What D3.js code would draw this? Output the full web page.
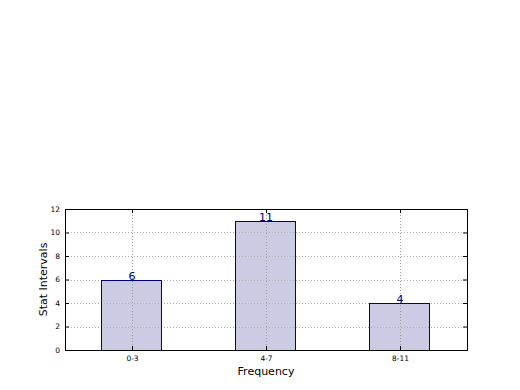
<!DOCTYPE html>
<html>
<head>
<meta charset="utf-8">
<script src="https://cdn.jsdelivr.net/npm/d3@7"></script>
<style>
  body { margin: 0; background: #fff; }
  text { font-family: "DejaVu Sans", sans-serif; }
</style>
</head>
<body>
<div id="chart"></div>
<script>
var categories = ["0-3", "4-7", "8-11"];
var counts = [6, 11, 4];
var yTicks = [0, 2, 4, 6, 8, 10, 12];

var svgWidth = 520;
var svgHeight = 390;
var margin = { top: 209, right: 53, bottom: 40, left: 65 };
var width = svgWidth - margin.left - margin.right;
var height = svgHeight - margin.top - margin.bottom;

var svg = d3.select("#chart")
            .append("svg")
            .attr("width", svgWidth)
            .attr("height", svgHeight);

var chart = svg.append("g").attr("transform", `translate(${margin.left}, ${margin.top})`);

// positions 0..n-1, xlim like matplotlib -0.5 .. n-0.5
var xScale = d3.scaleLinear().domain([-0.5, categories.length - 0.5]).range([0, width]);
var yScale = d3.scaleLinear().domain([0, 12]).range([height, 0]);
var barWidth = 0.45;
var snap = v => Math.round(v) + 0.5;

function drawBars(cls, fill, stroke) {
    chart.selectAll("." + cls)
         .data(counts)
         .enter()
         .append("rect")
         .attr("class", cls)
         .attr("x", (d, i) => snap(xScale(i - barWidth / 2)) - 1)
         .attr("width", (d, i) => snap(xScale(i + barWidth / 2)) - snap(xScale(i - barWidth / 2)))
         .attr("y", d => snap(yScale(d)))
         .attr("height", d => snap(yScale(0)) - snap(yScale(d)))
         .attr("fill", fill)
         .attr("stroke", stroke)
         .attr("stroke-width", 1);
}

// bar fills
drawBars("bar", "#cbcbe3", "none");

// grid
chart.selectAll(".hgrid")
     .data(yTicks)
     .enter()
     .append("line")
     .attr("x1", 0).attr("x2", width)
     .attr("y1", d => snap(yScale(d)))
     .attr("y2", d => snap(yScale(d)))
     .attr("stroke", "#b0b0b0")
     .attr("stroke-dasharray", "1,2");

chart.selectAll(".vgrid")
     .data(categories)
     .enter()
     .append("line")
     .attr("x1", (d, i) => snap(xScale(i)))
     .attr("x2", (d, i) => snap(xScale(i)))
     .attr("y1", 0).attr("y2", height)
     .attr("stroke", "#a0a0a0")
     .attr("stroke-dasharray", "1,2");

// bar outlines on top so the edges stay solid
drawBars("baredge", "none", "#000080");

// value labels
chart.selectAll(".val")
     .data(counts)
     .enter()
     .append("text")
     .attr("x", (d, i) => xScale(i))
     .attr("y", d => yScale(d))
     .attr("text-anchor", "middle")
     .attr("font-size", "11px")
     .attr("fill", "#000080")
     .text(d => d);

// axes (ticks inside, like matplotlib classic)
var yAxis = d3.axisLeft(yScale).tickValues(yTicks).tickSizeInner(-4).tickSizeOuter(0).tickPadding(5);
var yAxisR = d3.axisRight(yScale).tickValues(yTicks).tickSizeInner(-4).tickSizeOuter(0).tickFormat("");
var xAxis = d3.axisBottom(xScale).tickValues(d3.range(categories.length))
              .tickFormat(i => categories[i]).tickSizeInner(-4).tickSizeOuter(0).tickPadding(6);
var xAxisT = d3.axisTop(xScale).tickValues(d3.range(categories.length)).tickSizeInner(-4).tickSizeOuter(0).tickFormat("");

var gy = chart.append("g").call(yAxis);
var gyr = chart.append("g").attr("transform", `translate(${width},0)`).call(yAxisR);
var gx = chart.append("g").attr("transform", `translate(0,${height})`).call(xAxis);
var gxt = chart.append("g").call(xAxisT);

[gy, gyr, gx, gxt].forEach(function(g) {
    g.select(".domain").remove();
    g.selectAll("text").attr("font-size", "7.5px").attr("fill", "#000").attr("font-family", "DejaVu Sans, sans-serif");
});

// frame
chart.append("rect")
     .attr("x", 0.5).attr("y", 0.5)
     .attr("width", width).attr("height", height)
     .attr("fill", "none")
     .attr("stroke", "#000")
     .attr("stroke-width", 1);

// axis labels
svg.append("text")
   .attr("x", margin.left + width / 2)
   .attr("y", 375)
   .attr("text-anchor", "middle")
   .attr("font-size", "11px")
   .text("Frequency");

svg.append("text")
   .attr("transform", `translate(47, ${margin.top + height / 2}) rotate(-90)`)
   .attr("text-anchor", "middle")
   .attr("font-size", "11px")
   .text("Stat Intervals");
</script>
</body>
</html>
